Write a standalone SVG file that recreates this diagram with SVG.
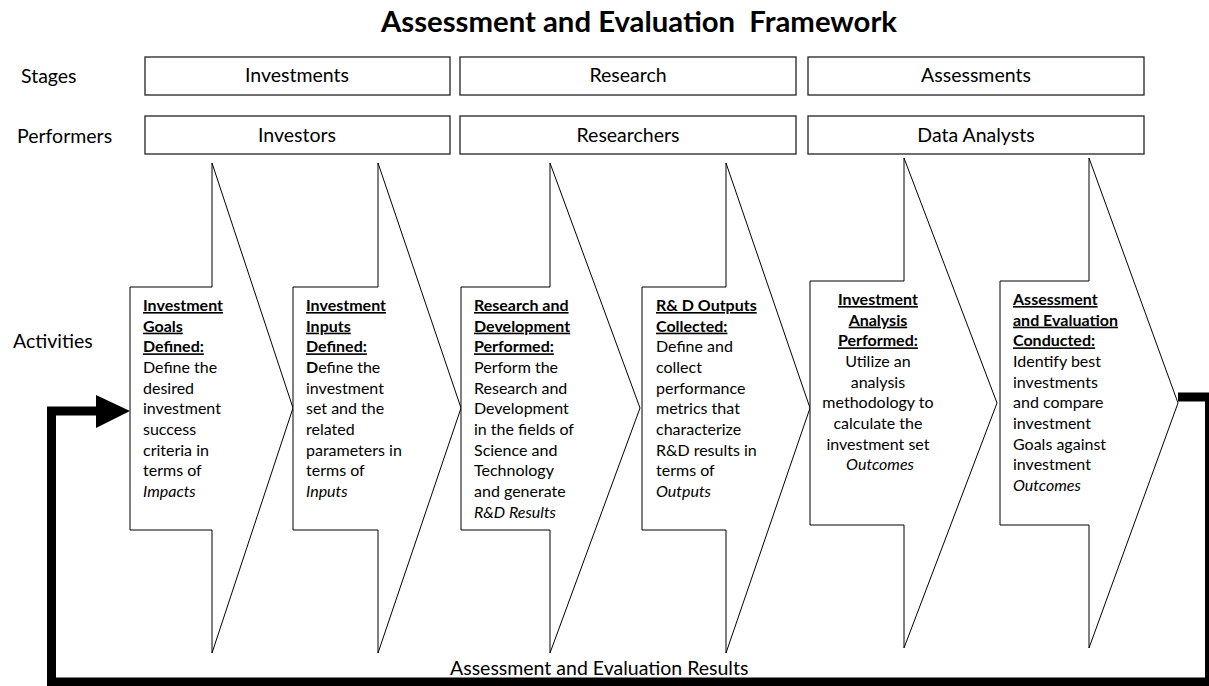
<svg xmlns="http://www.w3.org/2000/svg" width="1209" height="686" viewBox="0 0 1209 686">
  <style>
    text { font-family: Lato, "Open Sans", sans-serif; fill: #000; }
    .title { font-size: 29.3px; font-weight: bold; }
    .lbl { font-size: 19.5px; }
    .hdr { font-size: 19.5px; text-anchor: middle; }
    .box { fill: #fff; stroke: #222; stroke-width: 1.3; }
    .chev { fill: #fff; stroke: #000; stroke-width: 1; }
    .body { font-size: 16px; }
    .h { font-weight: bold; text-decoration: underline; }
    .em { font-style: italic; }
    .loop { fill: none; stroke: #000; stroke-width: 9; stroke-linejoin: miter; }
  </style>

  <!-- heading -->
  <text class="title" x="639" y="32" text-anchor="middle" xml:space="preserve">Assessment and Evaluation  Framework</text>

  <!-- row labels -->
  <text class="lbl" x="21" y="83">Stages</text>
  <text class="lbl" x="17" y="143">Performers</text>
  <text class="lbl" x="13" y="348">Activities</text>

  <!-- stages -->
  <g id="stage-investments">
    <rect class="box" x="145" y="57" width="305" height="38"/>
    <text class="hdr" x="297" y="82">Investments</text>
  </g>
  <g id="stage-research">
    <rect class="box" x="460" y="57" width="336" height="38"/>
    <text class="hdr" x="628" y="82">Research</text>
  </g>
  <g id="stage-assessments">
    <rect class="box" x="808" y="57" width="336" height="38"/>
    <text class="hdr" x="976" y="82">Assessments</text>
  </g>

  <!-- performers -->
  <g id="perf-investors">
    <rect class="box" x="145" y="116" width="305" height="38"/>
    <text class="hdr" x="297" y="142">Investors</text>
  </g>
  <g id="perf-researchers">
    <rect class="box" x="460" y="116" width="336" height="38"/>
    <text class="hdr" x="628" y="142">Researchers</text>
  </g>
  <g id="perf-analysts">
    <rect class="box" x="808" y="116" width="336" height="38"/>
    <text class="hdr" x="976" y="142">Data Analysts</text>
  </g>

  <!-- activities -->
  <g id="act-goals">
    <path class="chev" d="M130,287 H212 V163 L293,408 L212,653 V530 H130 Z"/>
    <text class="body" x="143" y="311">
      <tspan class="h" x="143">Investment</tspan>
      <tspan class="h" x="143" dy="20.67">Goals</tspan>
      <tspan class="h" x="143" dy="20.67">Defined:</tspan>
      <tspan x="143" dy="20.67">Define the</tspan>
      <tspan x="143" dy="20.67">desired</tspan>
      <tspan x="143" dy="20.67">investment</tspan>
      <tspan x="143" dy="20.67">success</tspan>
      <tspan x="143" dy="20.67">criteria in</tspan>
      <tspan x="143" dy="20.67">terms of</tspan>
      <tspan class="em" x="143" dy="20.67">Impacts</tspan>
    </text>
  </g>

  <g id="act-inputs">
    <path class="chev" d="M293,287 H378 V163 L461,408 L378,653 V530 H293 Z"/>
    <text class="body" x="306" y="311">
      <tspan class="h" x="306">Investment</tspan>
      <tspan class="h" x="306" dy="20.67">Inputs</tspan>
      <tspan class="h" x="306" dy="20.67">Defined:</tspan>
      <tspan x="306" dy="20.67"><tspan font-weight="bold">D</tspan>efine the</tspan>
      <tspan x="306" dy="20.67">investment</tspan>
      <tspan x="306" dy="20.67">set and the</tspan>
      <tspan x="306" dy="20.67">related</tspan>
      <tspan x="306" dy="20.67">parameters in</tspan>
      <tspan x="306" dy="20.67">terms of</tspan>
      <tspan class="em" x="306" dy="20.67">Inputs</tspan>
    </text>
  </g>

  <g id="act-research">
    <path class="chev" d="M461,287 H550 V163 L640,408 L550,653 V530 H461 Z"/>
    <text class="body" x="474" y="311">
      <tspan class="h" x="474">Research and</tspan>
      <tspan class="h" x="474" dy="20.67">Development</tspan>
      <tspan class="h" x="474" dy="20.67">Performed:</tspan>
      <tspan x="474" dy="20.67">Perform the</tspan>
      <tspan x="474" dy="20.67">Research and</tspan>
      <tspan x="474" dy="20.67">Development</tspan>
      <tspan x="474" dy="20.67">in the fields of</tspan>
      <tspan x="474" dy="20.67">Science and</tspan>
      <tspan x="474" dy="20.67">Technology</tspan>
      <tspan x="474" dy="20.67">and generate</tspan>
      <tspan class="em" x="474" dy="20.67">R&amp;D Results</tspan>
    </text>
  </g>

  <g id="act-outputs">
    <path class="chev" d="M642,287 H726 V163 L810,408 L726,653 V530 H642 Z"/>
    <text class="body" x="656" y="311">
      <tspan class="h" x="656">R&amp; D Outputs</tspan>
      <tspan class="h" x="656" dy="20.67">Collected:</tspan>
      <tspan x="656" dy="20.67">Define and</tspan>
      <tspan x="656" dy="20.67">collect</tspan>
      <tspan x="656" dy="20.67">performance</tspan>
      <tspan x="656" dy="20.67">metrics that</tspan>
      <tspan x="656" dy="20.67">characterize</tspan>
      <tspan x="656" dy="20.67">R&amp;D results in</tspan>
      <tspan x="656" dy="20.67">terms of</tspan>
      <tspan class="em" x="656" dy="20.67">Outputs</tspan>
    </text>
  </g>

  <g id="act-analysis">
    <path class="chev" d="M810,281 H904 V158 L997,403 L904,648 V525 H810 Z"/>
    <text class="body" x="880" y="305" text-anchor="middle">
      <tspan class="h" x="880">Investment</tspan>
      <tspan class="h" x="880" dy="20.67">Analysis</tspan>
      <tspan class="h" x="880" dy="20.67">Performed:</tspan>
      <tspan x="880" dy="20.67">Utilize an</tspan>
      <tspan x="880" dy="20.67">analysis</tspan>
      <tspan x="880" dy="20.67">methodology to</tspan>
      <tspan x="880" dy="20.67">calculate the</tspan>
      <tspan x="880" dy="20.67">investment set</tspan>
      <tspan class="em" x="880" dy="20.67">Outcomes</tspan>
    </text>
  </g>

  <g id="act-evaluation">
    <path class="chev" d="M1000,281 H1089 V158 L1178,403 L1089,648 V525 H1000 Z"/>
    <text class="body" x="1013" y="305">
      <tspan class="h" x="1013">Assessment</tspan>
      <tspan class="h" x="1013" dy="20.67">and Evaluation</tspan>
      <tspan class="h" x="1013" dy="20.67">Conducted:</tspan>
      <tspan x="1013" dy="20.67">Identify best</tspan>
      <tspan x="1013" dy="20.67">investments</tspan>
      <tspan x="1013" dy="20.67">and compare</tspan>
      <tspan x="1013" dy="20.67">investment</tspan>
      <tspan x="1013" dy="20.67">Goals against</tspan>
      <tspan x="1013" dy="20.67">investment</tspan>
      <tspan class="em" x="1013" dy="20.67">Outcomes</tspan>
    </text>
  </g>

  <!-- feedback loop from the last activity back to the first -->
  <g id="connectors">
    <polyline class="loop" points="1178,397 1209.5,397 1209.5,682 51.5,682 51.5,411 100,411"/>
    <polygon points="96,395 130,411 96,428" fill="#000"/>
    <text class="lbl" x="450" y="675">Assessment and Evaluation Results</text>
  </g>
</svg>
